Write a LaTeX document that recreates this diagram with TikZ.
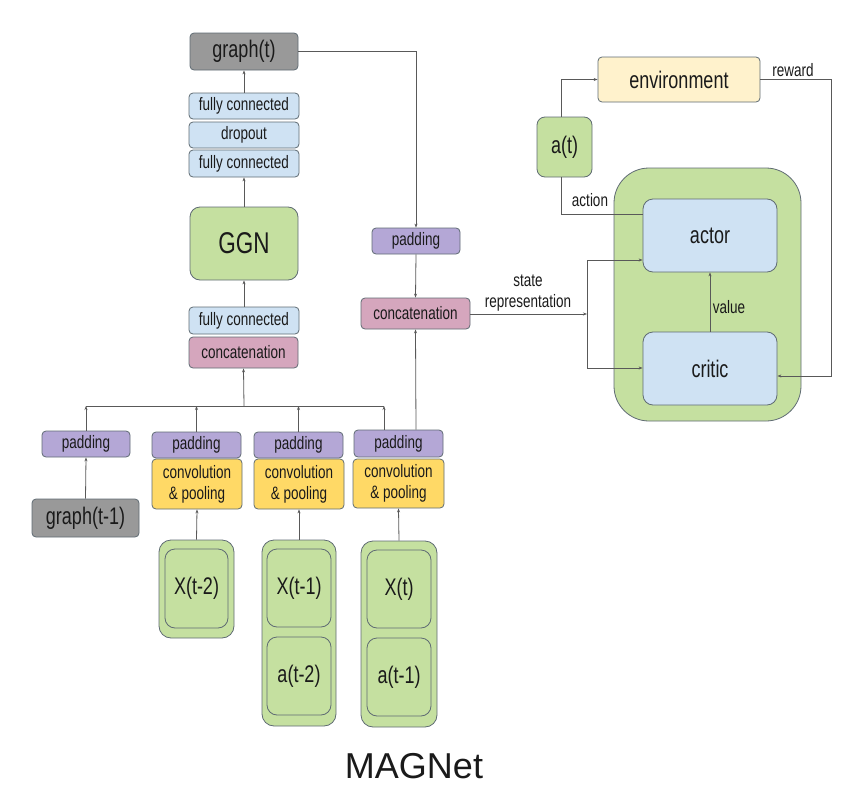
\documentclass[tikz,border=0pt]{standalone}
\usepackage{fontspec}
\setmainfont{Liberation Sans}[FakeStretch=0.75]
\newfontfamily\titlefont{Liberation Sans}
\usetikzlibrary{arrows.meta}
\definecolor{cgray}{HTML}{999999}
\definecolor{cblue}{HTML}{CFE2F3}
\definecolor{cgreen}{HTML}{C5E0A0}
\definecolor{cpurple}{HTML}{B4A7D6}
\definecolor{cpink}{HTML}{D5A6BD}
\definecolor{cyellow}{HTML}{FFD966}
\definecolor{cenv}{HTML}{FFF2CC}
\definecolor{cline}{HTML}{595959}
\definecolor{cborder}{HTML}{5F6B73}
\definecolor{ctext}{HTML}{1A1A1A}
\tikzset{
  box/.style={draw=cborder, line width=0.8pt, rounded corners=4pt, inner sep=0pt, text=ctext, align=center},
  sm/.style={font=\fontsize{18}{21}\selectfont},
  big/.style={font=\fontsize{24}{26}\selectfont},
  conn/.style={draw=cline, line width=0.8pt},
  arr/.style={conn, -{Stealth[length=4pt,width=3pt]}},
  lab/.style={text=ctext, font=\fontsize{18}{20.5}\selectfont, inner sep=0pt, align=center},
}
\begin{document}
\begin{tikzpicture}[x=1pt, y=-1pt]
\useasboundingbox (0,0) rectangle (852,787);
% left column
\node[box, big, fill=cgray, minimum width=108pt, minimum height=37pt] (gt) at (244,51.5) {graph(t)};
\node[box, sm, fill=cblue, minimum width=110pt, minimum height=26pt] (fc1) at (244,106) {fully connected};
\node[box, sm, fill=cblue, minimum width=110pt, minimum height=26pt] (drop) at (244,135) {dropout};
\node[box, sm, fill=cblue, minimum width=110pt, minimum height=27pt] (fc2) at (244,163.5) {fully connected};
\node[box, fill=cgreen, rounded corners=10pt, font=\fontsize{30}{32}\selectfont, minimum width=108pt, minimum height=73pt] (ggn) at (244,243.5) {GGN};
\node[box, sm, fill=cblue, minimum width=110pt, minimum height=27pt] (fc3) at (244,320.5) {fully connected};
\node[box, sm, fill=cpink, minimum width=109pt, minimum height=31pt] (cat1) at (243.5,352.5) {concatenation};
% right path
\node[box, sm, fill=cpurple, minimum width=88pt, minimum height=26pt] (pad5) at (416,241) {padding};
\node[box, sm, fill=cpink, minimum width=109pt, minimum height=31pt] (cat2) at (415.5,313.5) {concatenation};
% bottom row
\node[box, sm, fill=cpurple, minimum width=88pt, minimum height=26pt] (pad1) at (86,444) {padding};
\node[box, big, fill=cgray, minimum width=107pt, minimum height=38pt] (g1) at (85.5,518) {graph(t-1)};
\node[box, sm, fill=cpurple, minimum width=89pt, minimum height=26pt] (pad2) at (196.5,445) {padding};
\node[box, sm, fill=cyellow, minimum width=90pt, minimum height=50pt] (conv2) at (197,484) {convolution\\\& pooling};
\node[box, sm, fill=cpurple, minimum width=89pt, minimum height=26pt] (pad3) at (298.5,445) {padding};
\node[box, sm, fill=cyellow, minimum width=90pt, minimum height=50pt] (conv3) at (299,484) {convolution\\\& pooling};
\node[box, sm, fill=cpurple, minimum width=89pt, minimum height=27pt] (pad4) at (398.5,443.5) {padding};
\node[box, sm, fill=cyellow, minimum width=91pt, minimum height=49pt] (conv4) at (398.5,483.5) {convolution\\\& pooling};
% input containers
\node[box, fill=cgreen, rounded corners=12pt, minimum width=75pt, minimum height=98pt] (cont2) at (196.5,589) {};
\node[box, big, fill=cgreen, rounded corners=10pt, minimum width=63pt, minimum height=79pt] (x2) at (196.5,588.5) {X(t-2)};
\node[box, fill=cgreen, rounded corners=12pt, minimum width=74pt, minimum height=186pt] (cont3) at (299,633) {};
\node[box, big, fill=cgreen, rounded corners=10pt, minimum width=64pt, minimum height=78pt] (x1) at (299,588) {X(t-1)};
\node[box, big, fill=cgreen, rounded corners=10pt, minimum width=64pt, minimum height=78pt] (a2) at (299,676) {a(t-2)};
\node[box, fill=cgreen, rounded corners=12pt, minimum width=76pt, minimum height=186pt] (cont4) at (399,634) {};
\node[box, big, fill=cgreen, rounded corners=10pt, minimum width=64pt, minimum height=78pt] (x0) at (399,589) {X(t)};
\node[box, big, fill=cgreen, rounded corners=10pt, minimum width=64pt, minimum height=78pt] (a1) at (399,677) {a(t-1)};
% RL part
\node[box, big, fill=cenv, minimum width=162pt, minimum height=45pt] (env) at (679,79.5) {environment};
\node[box, big, fill=cgreen, rounded corners=8pt, minimum width=55pt, minimum height=60pt] (at) at (564.5,147) {a(t)};
\node[box, fill=cgreen, rounded corners=35pt, minimum width=187pt, minimum height=253pt] (ac) at (707.5,294.5) {};
\node[box, big, fill=cblue, rounded corners=10pt, minimum width=134pt, minimum height=73pt] (actor) at (710,235.5) {actor};
\node[box, big, fill=cblue, rounded corners=10pt, minimum width=134pt, minimum height=73pt] (critic) at (710,368.5) {critic};
% coordinates
\coordinate (bus) at (244,406);
\coordinate (busL) at (86,406);
\coordinate (busR) at (384,406);
\coordinate (gtc) at (416,51.5);
\coordinate (sj) at (587,314);
\coordinate (sjt) at (587,260);
\coordinate (sjb) at (587,368);
\coordinate (ac1) at (561,79.5);
\coordinate (ac2) at (561,214);
\coordinate (rw) at (831,79.5);
\coordinate (rw2) at (831,376);
% connectors
\draw[arr] (fc1.north) -- (gt.south);
\draw[arr] (ggn.north) -- (fc2.south);
\draw[arr] (fc3.north) -- (ggn.south);
\draw[arr] (bus) -- (cat1.south);
\draw[conn] (busL) -- (busR);
\draw[arr] (pad1.north) -- (busL);
\draw[arr] (pad2.north) -- (pad2.north |- bus);
\draw[arr] (pad3.north) -- (pad3.north |- bus);
\draw[arr] (pad4.north -| busR) -- (busR);
\draw[arr] (g1.north) -- (pad1.south);
\draw[arr] (cont2.north) -- (conv2.south);
\draw[arr] (cont3.north) -- (conv3.south);
\draw[arr] (cont4.north) -- (conv4.south);
\draw[arr] (gt.east) -- (gtc) -- (pad5.north);
\draw[arr] (pad5.south) -- (cat2.north);
\draw[arr] (pad4.north -| gtc) -- (cat2.south);
\draw[arr] (cat2.east |- sj) -- (sj);
\draw[conn] (sjt) -- (sjb);
\draw[arr] (sjt) -- (actor.west |- sjt);
\draw[arr] (sjb) -- (critic.west |- sjb);
\draw[arr] (at.north -| ac1) -- (ac1) -- (env.west);
\draw[conn] (at.south -| ac2) -- (ac2) -- (actor.west |- ac2);
\draw[arr] (env.east) -- (rw) -- (rw2) -- (critic.east |- rw2);
\draw[arr] (critic.north) -- (actor.south);
% labels
\node[lab] (lact) at (590,200) {action};
\node[lab] (lrew) at (793,70) {reward};
\node[lab] (lstate) at (528,293) {state\\representation};
\node[lab] (lval) at (729,307) {value};
\node[text=ctext, inner sep=0pt, font=\titlefont\fontsize{36}{38}\selectfont] (title) at (414,766) {MAGNet};
\end{tikzpicture}
\end{document}
